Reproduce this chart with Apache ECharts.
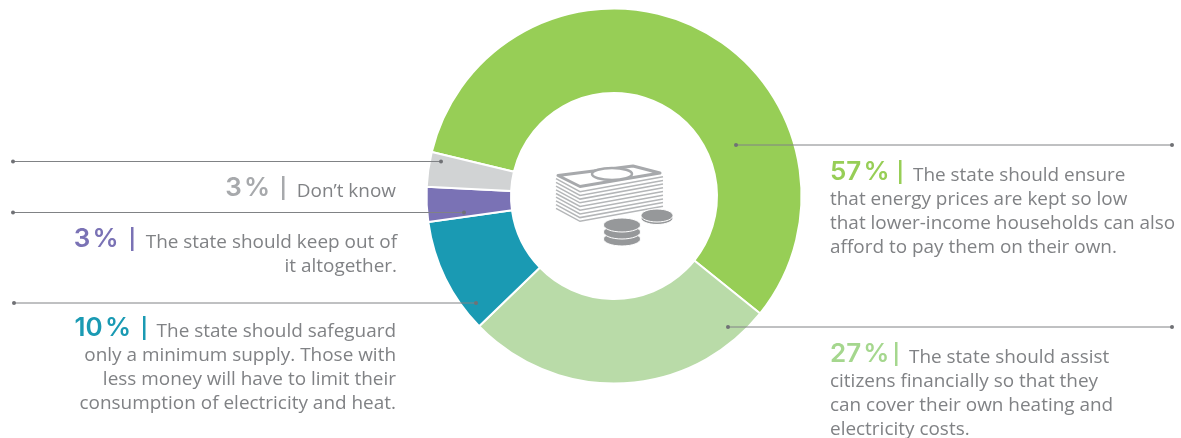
<!DOCTYPE html>
<html><head><meta charset="utf-8">
<style>html,body{margin:0;padding:0;background:#fff}#c{width:1181px;height:438px}</style>
<script src="https://cdn.jsdelivr.net/npm/echarts@6/dist/echarts.min.js"></script>
</head><body><div id="c"></div>
<script>
const sliceNames = ['Ensure low prices','Assist financially','Minimum supply','Keep out','Don\u2019t know'];
const sliceValues = [57,27,10,3,3];
const sliceColors = ['#97ce56','#b9dba8','#1a9ab3','#7a72b5','#d1d3d4'];
const pctColors = ['#97ce56','#a5d78e','#1a9ab3','#7a72b5','#a7a9ac'];
const descriptions = [
 ['The state should ensure','that energy prices are kept so low','that lower-income households can also','afford to pay them on their own.'],
 ['The state should assist','citizens financially so that they','can cover their own heating and','electricity costs.'],
 ['The state should safeguard','only a minimum supply. Those with','less money will have to limit their','consumption of electricity and heat.'],
 ['The state should keep out of','it altogether.'],
 ['Don\u2019t know']
];
const labelLayout = [
 {side:'l',pctX:830,barX:900,textX:913,y:175,edge:830},
 {side:'l',pctX:830,barX:896,textX:909,y:357,edge:830},
 {side:'r',pctX:131,barX:144,textX:396,y:331,edge:396},
 {side:'r',pctX:118.5,barX:132,textX:397,y:242,edge:397},
 {side:'r',pctX:270,barX:283,textX:396,y:191,edge:396}
];
const leaders = [[736,145,1172,145],[728,327,1172,327],[14,303,476,303],[13,212.5,464,212.5],[13,161.5,441,161.5]];
const FONT='"Open Sans"';
const g=[];
const grey='#808285';
leaders.forEach(l=>{
 g.push({type:'line',z:10,shape:{x1:l[0],y1:l[1],x2:l[2],y2:l[3]},style:{stroke:'#808285',lineWidth:1}});
 g.push({type:'circle',z:10,shape:{cx:l[0],cy:l[1],r:2},style:{fill:'#707175'}});
 g.push({type:'circle',z:10,shape:{cx:l[2],cy:l[3],r:2},style:{fill:'#707175'}});
});
labelLayout.forEach((a,i)=>{
 const c=pctColors[i];
 g.push({type:'text',z:11,style:{x:a.pctX,y:a.y-3,text:sliceValues[i]+'\u200a%',fill:c,font:'600 26px Inter',textAlign:a.side==='l'?'left':'right',textVerticalAlign:'middle'}});
 g.push({type:'rect',z:11,shape:{x:a.barX-1,y:a.y-15,width:2.5,height:24},style:{fill:c}});
 descriptions[i].forEach((t,k)=>{
  const left=a.side==='l';
  const x=k===0?a.textX:a.edge;
  g.push({type:'text',z:11,x:x,y:a.y+1+k*24,scaleX:1.052,style:{x:0,y:0,text:t,fill:grey,font:'400 18px '+FONT,textAlign:left?'left':'right',textVerticalAlign:'middle'}});
 });
});
const iconGrey='#a7a9ac';
for(let n=9;n>=1;n--){
 const d=n*3.7;
 g.push({type:'polyline',z:5,shape:{points:[[556,175+d],[580,188+d],[663,173+d]]},style:{stroke:'#b4b6b8',lineWidth:1.5,fill:null}});
}
g.push({type:'polygon',z:6,shape:{points:[[558,175.5],[633,166],[660,173],[580,186.5]]},style:{fill:'#fff',stroke:iconGrey,lineWidth:3,lineJoin:'round'}});
g.push({type:'ellipse',z:7,shape:{cx:612,cy:174,rx:20,ry:6},style:{fill:'#fff',stroke:iconGrey,lineWidth:2.5}});
[[622,239],[622,232],[622,225]].forEach(p=>{
 g.push({type:'ellipse',z:8,shape:{cx:p[0],cy:p[1],rx:18.5,ry:7},style:{fill:'#96989a',stroke:'#fff',lineWidth:1}});
});
g.push({type:'ellipse',z:8,shape:{cx:657,cy:218,rx:16,ry:6.5},style:{fill:'#96989a',stroke:'#fff',lineWidth:1}});
g.push({type:'ellipse',z:8,shape:{cx:657,cy:215.5,rx:16,ry:6.5},style:{fill:'#96989a',stroke:'#fff',lineWidth:1}});

const chart=echarts.init(document.getElementById('c'),null,{renderer:'canvas'});
chart.setOption({
 animation:false,
 series:[{type:'pie',center:[614,196],radius:[103,187.5],startAngle:166.4,clockwise:true,silent:true,
  label:{show:false},labelLine:{show:false},
  itemStyle:{borderColor:'#fff',borderWidth:2},
  data:sliceNames.map((n,i)=>({name:n,value:sliceValues[i],itemStyle:{color:sliceColors[i]}}))}],
 graphic:{elements:g}
});
</script></body></html>
